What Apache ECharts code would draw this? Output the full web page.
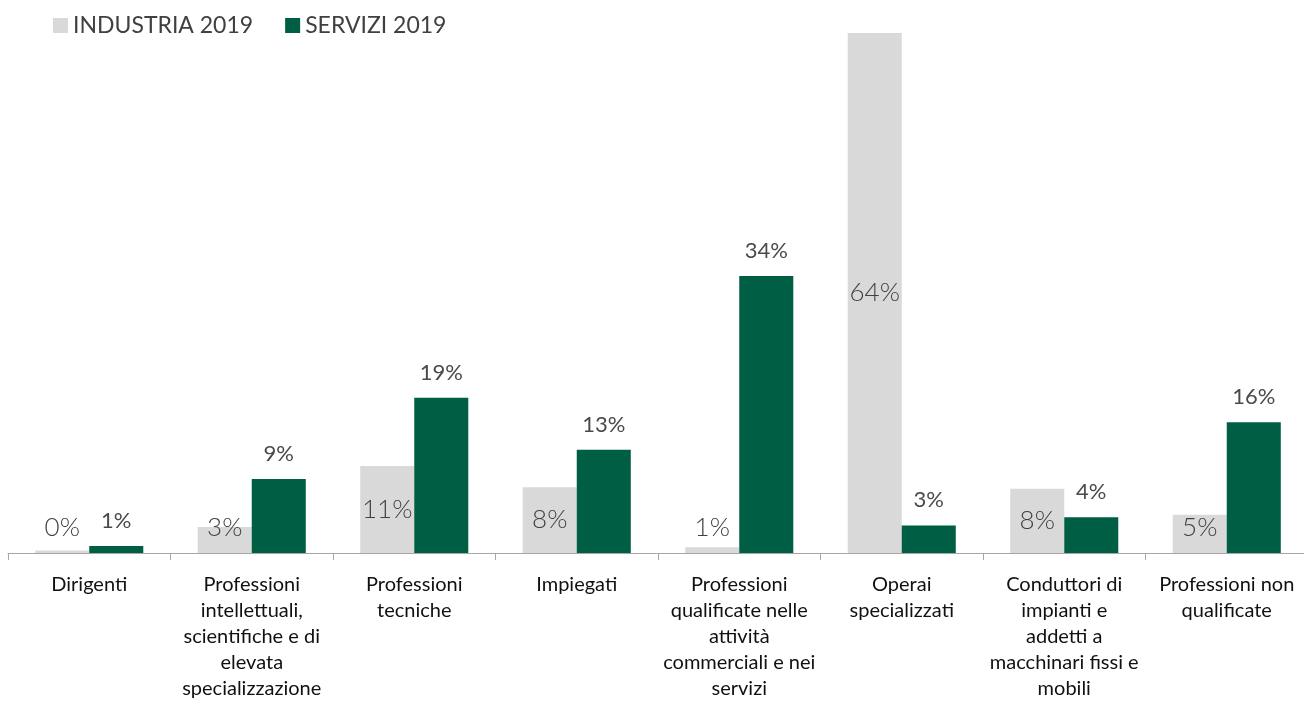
<!DOCTYPE html>
<html>
<head>
<meta charset="utf-8">
<title>Professioni richieste 2019</title>
<script src="https://cdn.jsdelivr.net/npm/echarts@6/dist/echarts.min.js"></script>
<style>
  html, body { margin: 0; padding: 0; background: #ffffff; }
  #chart { width: 1304px; height: 701px; }
</style>
</head>
<body>
<div id="chart"></div>
<script>
// Occupational groups (line breaks as set in the axis labels)
const categories = [
  'Dirigenti',
  'Professioni\nintellettuali,\nscientifiche e di\nelevata\nspecializzazione',
  'Professioni\ntecniche',
  'Impiegati',
  'Professioni\nqualificate nelle\nattività\ncommerciali e nei\nservizi',
  'Operai\nspecializzati',
  'Conduttori di\nimpianti e\naddetti a\nmacchinari fissi e\nmobili',
  'Professioni non\nqualificate'
];

const seriesNames = ['INDUSTRIA 2019', 'SERVIZI 2019'];

// Share of hires by group, in percent
const industria = [0.3, 3.2, 10.7, 8.1, 0.7, 64.0, 7.9, 4.7];
const servizi = [0.85, 9.1, 19.1, 12.7, 34.1, 3.4, 4.4, 16.1];

const fmtPct = p => Math.round(p.value) + '%';
const FONT = 'Lato, "Open Sans", sans-serif';

// Grey bars carry their label in the middle; short bars keep it resting above the axis
const industriaData = industria.map(v => (
  v < 6.4
    ? { value: v, label: { position: 'insideBottom', distance: 12 } }
    : { value: v }
));

const chart = echarts.init(document.getElementById('chart'), null, { renderer: 'canvas' });

chart.setOption({
  animation: false,
  backgroundColor: '#ffffff',
  textStyle: { fontFamily: FONT },
  legend: {
    left: 48,
    top: 9,
    icon: 'rect',
    itemWidth: 15,
    itemHeight: 15,
    itemGap: 32,
    textStyle: { fontSize: 23, color: '#404040', fontFamily: FONT },
    data: seriesNames
  },
  // the last category runs a few pixels past the right edge of the page
  grid: { left: 8, width: 1300, top: 25, bottom: 148, outerBoundsMode: 'none', containLabel: false },
  xAxis: {
    type: 'category',
    data: categories,
    axisLine: { show: true, lineStyle: { color: '#a6a6a6', width: 1 } },
    axisTick: { show: true, length: 7, alignWithLabel: false, lineStyle: { color: '#a6a6a6' } },
    axisLabel: {
      interval: 0,
      margin: 19,
      fontSize: 20,
      lineHeight: 26,
      color: '#111111',
      fontFamily: FONT,
      align: 'center',
      verticalAlign: 'top'
    }
  },
  yAxis: {
    type: 'value',
    min: 0,
    max: 65,
    show: false,
    splitLine: { show: false }
  },
  series: [
    {
      name: seriesNames[0],
      type: 'bar',
      data: industriaData,
      barGap: '0%',
      barCategoryGap: '33.5%',
      itemStyle: { color: '#d9d9d9' },
      label: {
        show: true,
        position: 'inside',
        formatter: fmtPct,
        fontSize: 26,
        lineHeight: 26,
        fontWeight: 300,
        color: '#404040',
        fontFamily: FONT
      }
    },
    {
      name: seriesNames[1],
      type: 'bar',
      data: servizi,
      itemStyle: { color: '#005e44' },
      label: {
        show: true,
        position: 'top',
        distance: 13,
        formatter: fmtPct,
        fontSize: 22,
        lineHeight: 24,
        color: '#4a4a4a',
        fontFamily: FONT
      }
    }
  ]
});
</script>
</body>
</html>
